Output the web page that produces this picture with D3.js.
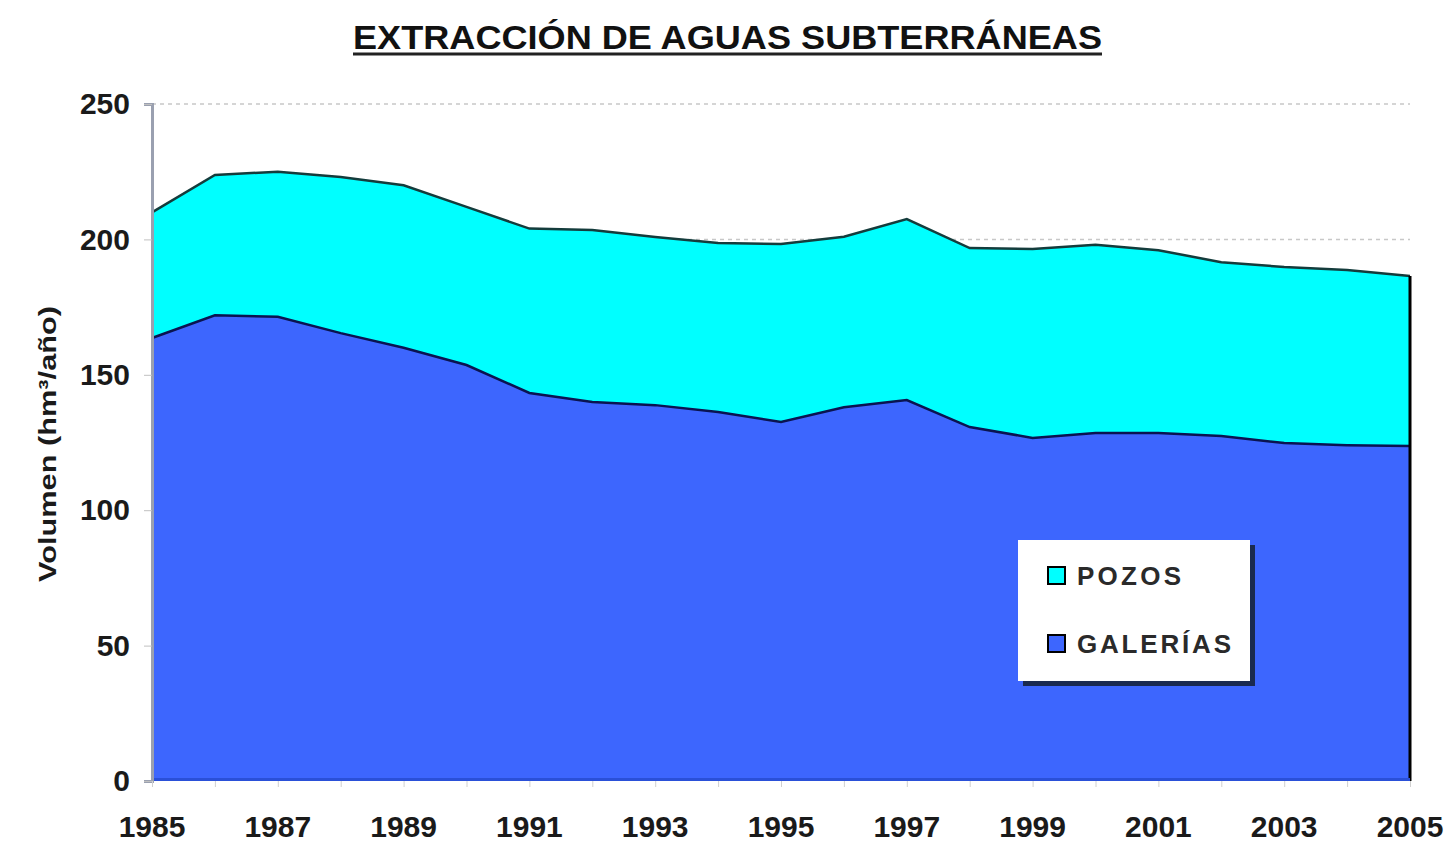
<!DOCTYPE html>
<html>
<head>
<meta charset="utf-8">
<script src="https://cdn.jsdelivr.net/npm/d3@7/dist/d3.min.js"></script>
<style>
  body { margin: 0; background: #fff; }
  text { font-family: "Liberation Sans", Arial, sans-serif; font-weight: bold; }
</style>
</head>
<body>
<div id="grafico"></div>
<script>
// datos (hm3/año)
var anios = [1985, 1986, 1987, 1988, 1989, 1990, 1991, 1992, 1993, 1994, 1995,
             1996, 1997, 1998, 1999, 2000, 2001, 2002, 2003, 2004, 2005];
var galerias = [163.6, 172, 171.4, 165.4, 160, 153.6, 143.3, 140, 138.8, 136.3, 132.6,
                138, 140.7, 130.7, 126.7, 128.5, 128.5, 127.4, 124.8, 124, 123.7];
var total = [210, 223.8, 225, 223, 220, 212, 204, 203.5, 200.9, 198.7, 198.3,
             201, 207.5, 196.8, 196.5, 198, 196, 191.6, 189.8, 188.7, 186.5];
var series = ["GALERÍAS", "POZOS"];
var colores = ["#3d66fe", "#00ffff"];
var ticksY = [0, 50, 100, 150, 200, 250];
var ticksX = [1985, 1987, 1989, 1991, 1993, 1995, 1997, 1999, 2001, 2003, 2005];

var width = 1450, height = 845;
var margin = {left: 152, right: 40, top: 104, bottom: 64};

var svg = d3.select("#grafico").append("svg")
  .attr("width", width)
  .attr("height", height);

var x = d3.scaleLinear().domain([1985, 2005]).range([margin.left, width - margin.right]);
var y = d3.scaleLinear().domain([0, 250]).range([height - margin.bottom, margin.top]);

// filas apiladas
var filas = anios.map(function(a, i) {
  return {anio: a, "GALERÍAS": galerias[i], "POZOS": total[i] - galerias[i]};
});
var pila = d3.stack().keys(series)(filas);

// rejilla
svg.append("g").selectAll("line")
  .data(ticksY.filter(function(d) { return d > 0; }))
  .enter().append("line")
  .attr("x1", margin.left).attr("x2", width - margin.right)
  .attr("y1", function(d) { return y(d); }).attr("y2", function(d) { return y(d); })
  .attr("stroke", "#c8c8c8").attr("stroke-width", 1.5)
  .attr("stroke-dasharray", "4,4");

// areas
var area = d3.area()
  .x(function(d) { return x(d.data.anio); })
  .y0(function(d) { return y(d[0]); })
  .y1(function(d) { return y(d[1]); });

svg.append("g").selectAll("path")
  .data(pila)
  .enter().append("path")
  .attr("d", area)
  .attr("fill", function(d, i) { return colores[i]; });

var linea = d3.line()
  .x(function(d) { return x(d.data.anio); })
  .y(function(d) { return y(d[1]); });

svg.append("g").selectAll("path")
  .data(pila)
  .enter().append("path")
  .attr("d", linea)
  .attr("fill", "none")
  .attr("stroke", function(d, i) { return i === 0 ? "#0a1450" : "#143c3c"; })
  .attr("stroke-width", 2.5);

// borde derecho
svg.append("line")
  .attr("x1", x(2005)).attr("x2", x(2005))
  .attr("y1", y(total[total.length - 1])).attr("y2", y(0))
  .attr("stroke", "#000").attr("stroke-width", 3);

// borde inferior
svg.append("line")
  .attr("x1", x(1985)).attr("x2", x(2005))
  .attr("y1", y(0) - 1.5).attr("y2", y(0) - 1.5)
  .attr("stroke", "#2a50d8").attr("stroke-width", 3);

// eje y
var ejeY = svg.append("g").attr("transform", "translate(" + margin.left + ",0)")
  .call(d3.axisLeft(y).tickValues(ticksY).tickSize(8).tickPadding(14));
ejeY.select(".domain").attr("stroke", "#9aa0b0").attr("stroke-width", 3);
ejeY.selectAll(".tick line").attr("stroke", "#c0c0c0");
ejeY.selectAll("text").attr("font-size", 30).attr("fill", "#1a1a1a")
  .style("font-family", "'Liberation Sans', Arial, sans-serif").style("font-weight", "bold");

// eje x
var ejeX = svg.append("g").attr("transform", "translate(0," + y(0) + ")")
  .call(d3.axisBottom(x).tickValues(anios).tickSize(6).tickFormat(""));
ejeX.select(".domain").remove();
ejeX.selectAll(".tick line").attr("stroke", "#d0d0d0");

svg.append("g").selectAll("text")
  .data(ticksX)
  .enter().append("text")
  .attr("x", function(d) { return x(d); })
  .attr("y", y(0) + 56)
  .attr("text-anchor", "middle")
  .attr("font-size", 30)
  .attr("fill", "#1a1a1a")
  .text(function(d) { return d; });

// titulo del eje y
svg.append("text")
  .attr("transform", "translate(56,444) rotate(-90)")
  .attr("text-anchor", "middle")
  .attr("font-size", 24)
  .attr("fill", "#1a1a1a")
  .attr("textLength", 276)
  .attr("lengthAdjust", "spacingAndGlyphs")
  .text("Volumen (hm³/año)");

// titulo
svg.append("text")
  .attr("x", 353).attr("y", 49)
  .attr("font-size", 33)
  .attr("fill", "#111")
  .attr("textLength", 749)
  .attr("lengthAdjust", "spacingAndGlyphs")
  .text("EXTRACCIÓN DE AGUAS SUBTERRÁNEAS");
svg.append("line")
  .attr("x1", 353).attr("x2", 1102).attr("y1", 54).attr("y2", 54)
  .attr("stroke", "#222").attr("stroke-width", 3);

// leyenda
var ley = svg.append("g").attr("transform", "translate(1018,540)");
ley.append("rect").attr("x", 5).attr("y", 5).attr("width", 232).attr("height", 141).attr("fill", "#1a2a50");
ley.append("rect").attr("width", 232).attr("height", 141).attr("fill", "#fff");
var itemsLey = [{nombre: "POZOS", color: colores[1], ancho: 104}, {nombre: "GALERÍAS", color: colores[0], ancho: 154}];
var item = ley.selectAll(".item").data(itemsLey).enter().append("g")
  .attr("class", "item")
  .attr("transform", function(d, i) { return "translate(0," + (27 + i * 68) + ")"; });
item.append("rect").attr("x", 30).attr("y", 0).attr("width", 17).attr("height", 17)
  .attr("fill", function(d) { return d.color; }).attr("stroke", "#000").attr("stroke-width", 2);
item.append("text").attr("x", 59).attr("y", 18).attr("font-size", 26).attr("fill", "#2a2a2a")
  .attr("textLength", function(d) { return d.ancho; })
  .attr("lengthAdjust", "spacing")
  .text(function(d) { return d.nombre; });
</script>
</body>
</html>
